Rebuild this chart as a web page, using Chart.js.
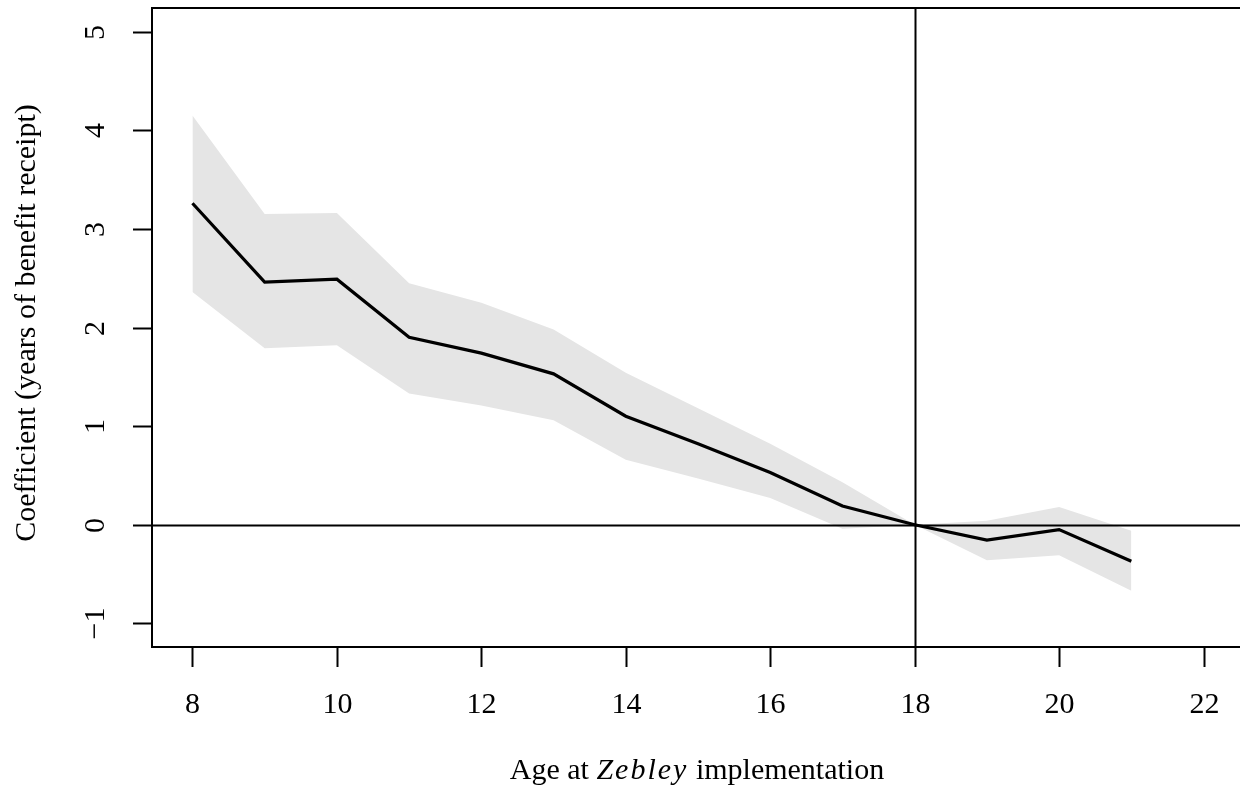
<!DOCTYPE html>
<html lang="en">
<head>
    <meta charset="UTF-8">
    <title>Coefficient by age at Zebley implementation</title>
    <style>
        body {
            margin: 0;
            padding: 0;
            background-color: #ffffff;
            overflow: hidden;
        }
        .chart-container {
            position: relative;
            width: 1244px;
            height: 788px;
        }
    </style>
</head>
<body>
    <div class="chart-container">
        <canvas id="coefChart" width="1244" height="788"></canvas>
    </div>

    <script src="https://cdn.jsdelivr.net/npm/chart.js"></script>
    <script>
        // ages and estimates
        const ages = [8, 9, 10, 11, 12, 13, 14, 15, 16, 17, 18, 19, 20, 21];
        const coef = [3.26, 2.46, 2.49, 1.90, 1.74, 1.53, 1.10, 0.82, 0.53, 0.19, 0, -0.155, -0.05, -0.37];
        const upper = [4.15, 3.15, 3.16, 2.45, 2.25, 1.98, 1.54, 1.18, 0.82, 0.43, 0, 0.04, 0.18, -0.06];
        const lower = [2.36, 1.79, 1.82, 1.33, 1.21, 1.06, 0.66, 0.47, 0.27, -0.04, 0, -0.36, -0.31, -0.67];

        const xTicks = [8, 10, 12, 14, 16, 18, 20, 22];
        const yTicks = [-1, 0, 1, 2, 3, 4, 5];

        const toPoints = (vals) => ages.map((a, i) => ({ x: a, y: vals[i] }));

        const FONT = '30px "Liberation Serif", "Times New Roman", serif';
        const ITALIC = 'italic 30px "Liberation Serif", "Times New Roman", serif';

        // R-style frame, ticks, labels, reference lines
        const rAxes = {
            id: 'rAxes',
            afterDatasetsDraw(chart) {
                const ctx = chart.ctx;
                const area = chart.chartArea;
                const xs = chart.scales.x;
                const ys = chart.scales.y;
                ctx.save();
                ctx.strokeStyle = '#000';
                ctx.fillStyle = '#000';
                ctx.lineWidth = 2;

                // reference lines
                const x18 = Math.round(xs.getPixelForValue(18)) + 0.5;
                const y0 = Math.round(ys.getPixelForValue(0)) + 0.5;
                ctx.beginPath();
                ctx.moveTo(x18, area.top);
                ctx.lineTo(x18, area.bottom);
                ctx.moveTo(area.left, y0);
                ctx.lineTo(area.right, y0);
                ctx.stroke();

                // box
                ctx.strokeRect(area.left, area.top, area.right - area.left + 10, area.bottom - area.top);

                // x ticks + labels
                ctx.font = FONT;
                ctx.textAlign = 'center';
                ctx.textBaseline = 'middle';
                xTicks.forEach(v => {
                    const px = Math.round(xs.getPixelForValue(v)) + 0.5;
                    ctx.beginPath();
                    ctx.moveTo(px, area.bottom);
                    ctx.lineTo(px, area.bottom + 20);
                    ctx.stroke();
                    ctx.fillText(String(v), px, area.bottom + 58);
                });

                // y ticks + rotated labels
                yTicks.forEach(v => {
                    const py = Math.round(ys.getPixelForValue(v)) + 0.5;
                    ctx.beginPath();
                    ctx.moveTo(area.left, py);
                    ctx.lineTo(area.left - 19, py);
                    ctx.stroke();
                    ctx.save();
                    ctx.translate(area.left - 56, py);
                    ctx.rotate(-Math.PI / 2);
                    ctx.fillText(v < 0 ? '\u2212' + Math.abs(v) : String(v), 0, 0);
                    ctx.restore();
                });

                // y title
                ctx.save();
                ctx.translate(27, 323);
                ctx.rotate(-Math.PI / 2);
                ctx.fillText('Coefficient (years of benefit receipt)', 0, 0);
                ctx.restore();

                // x title with italic Zebley
                const partA = 'Age at ';
                const partB = 'Zebley';
                const partC = ' implementation';
                ctx.font = FONT;
                const wA = ctx.measureText(partA).width;
                const wC = ctx.measureText(partC).width;
                ctx.font = ITALIC;
                ctx.letterSpacing = '2px';
                const wB = ctx.measureText(partB).width;
                const total = wA + wB + wC;
                let tx = 697 - total / 2;
                const ty = 771;
                ctx.textAlign = 'left';
                ctx.letterSpacing = '0px';
                ctx.font = FONT;
                ctx.fillText(partA, tx, ty);
                tx += wA;
                ctx.font = ITALIC;
                ctx.letterSpacing = '2px';
                ctx.fillText(partB, tx, ty);
                tx += wB;
                ctx.letterSpacing = '0px';
                ctx.font = FONT;
                ctx.fillText(partC, tx, ty);

                ctx.restore();
            }
        };

        const chartCtx = document.getElementById('coefChart').getContext('2d');
        const coefChart = new Chart(chartCtx, {
            type: 'line',
            data: {
                datasets: [{
                    label: 'upper',
                    data: toPoints(upper),
                    borderWidth: 0,
                    pointRadius: 0,
                    backgroundColor: '#e5e5e5',
                    fill: '+1',
                    order: 3
                }, {
                    label: 'lower',
                    data: toPoints(lower),
                    borderWidth: 0,
                    pointRadius: 0,
                    fill: false,
                    order: 2
                }, {
                    label: 'coef',
                    data: toPoints(coef),
                    borderColor: '#000',
                    borderWidth: 3.2,
                    pointRadius: 0,
                    fill: false,
                    order: 1
                }]
            },
            options: {
                responsive: false,
                animation: false,
                layout: {
                    padding: { left: 152, top: 8, right: 0, bottom: 141 }
                },
                scales: {
                    x: { type: 'linear', min: 7.44, max: 22.56, display: false },
                    y: { type: 'linear', min: -1.24, max: 5.24, display: false }
                },
                plugins: {
                    legend: { display: false },
                    tooltip: { enabled: false }
                }
            },
            plugins: [rAxes]
        });
    </script>
</body>
</html>
